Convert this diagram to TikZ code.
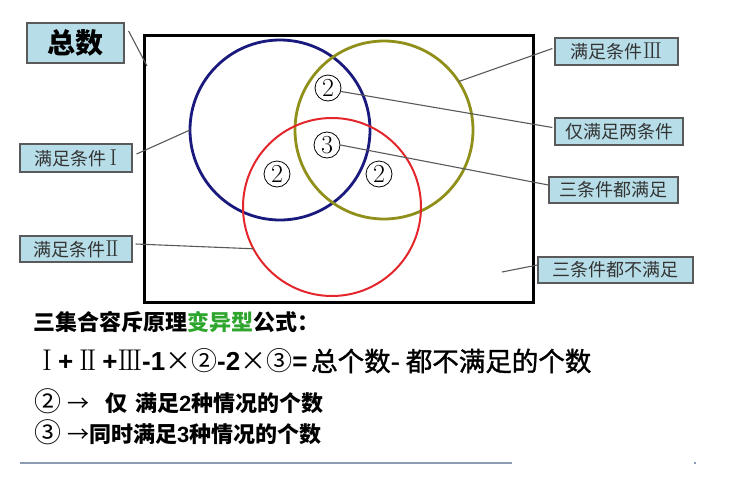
\documentclass[tikz,border=0pt]{standalone}
\usepackage{fontspec}
\newfontfamily\cjk{Noto Sans CJK SC}
\newfontfamily\cjkm[FakeBold=1.3]{Noto Sans CJK SC}
\newfontfamily\arl{Liberation Sans}
\usetikzlibrary{calc}
\definecolor{boxfill}{HTML}{B7DEE8}
\definecolor{boxdraw}{HTML}{5A5A5A}
\definecolor{cblue}{HTML}{1A1A7E}
\definecolor{colive}{HTML}{8F8F1A}
\definecolor{cred}{HTML}{E3262B}
\definecolor{cgreen}{HTML}{2EA62E}
\definecolor{rulec}{HTML}{8E9CB3}
\newcommand\rmn[1]{{\normalfont\fontsize{23}{23}\selectfont #1}}
\newcommand\rmb[1]{{\normalfont\fontsize{30}{30}\selectfont #1}}
\begin{document}
\begin{tikzpicture}[x=1pt,y=-1pt,
 lbl/.style={draw=boxdraw, line width=1.2pt, fill=boxfill, inner sep=0pt, font=\cjk\fontsize{18}{18}\selectfont, text=black!80},
 conn/.style={draw=black!65, line width=1.1pt},
 cnum/.style={circle, draw=black, line width=0.8pt, inner sep=0pt, minimum size=26pt, font=\fontsize{26}{26}\selectfont},
 venn/.style={circle, draw, inner sep=0pt, outer sep=0pt, minimum size=#1},
 txt/.style={anchor=west, inner sep=0pt},
]
\useasboundingbox (0,0) rectangle (731,485);
% frame
\node[draw=black, line width=3pt, minimum width=389pt, minimum height=267pt, inner sep=0pt] (frame) at (338.5,168.5) {};
% circles
\node[venn=180pt, draw=cblue, line width=2.8pt] (cA) at (280,130) {};
\node[venn=178pt, draw=colive, line width=2.8pt] (cB) at (384,130) {};
\node[venn=178pt, draw=cred, line width=2pt] (cC) at (332,207) {};
% circled numbers
\node[cnum] (n2a) at (328,88) {2};
\node[cnum] (n3) at (327,145) {3};
\node[cnum] (n2b) at (277,174) {2};
\node[cnum] (n2c) at (379,174) {2};
% label boxes
\node[lbl, minimum width=97pt, minimum height=40pt, font=\cjk\bfseries\fontsize{28}{28}\selectfont, text=black] (tot) at (75.5,43) {总数};
\node[lbl, minimum width=123pt, minimum height=27pt] (b3) at (616.5,51.5) {满足条件\rmn{I\kern-1.8ptI\kern-1.8ptI}};
\node[lbl, minimum width=128pt, minimum height=27pt] (b2) at (619,131.5) {仅满足两条件};
\node[lbl, minimum width=129pt, minimum height=26pt] (bA) at (613.5,190) {三条件都满足};
\node[lbl, minimum width=112pt, minimum height=28pt] (b1) at (76,158) {满足条件\,\rmn{I}};
\node[lbl, minimum width=112pt, minimum height=26pt] (bII) at (76,249) {满足条件\rmn{I\kern-1.8ptI}};
\node[lbl, minimum width=155pt, minimum height=26pt] (bN) at (615.5,270) {三条件都不满足};
% connectors
\coordinate (tEnd) at (147,66);
\coordinate (nEnd) at (502,272);
\draw[conn] ([xshift=4pt,yshift=12pt]tot.east) -- (tEnd);
\draw[conn] (cB.33) -- ([xshift=-2pt,yshift=3pt]b3.west);
\draw[conn] (n2a.-15) -- ([xshift=-2pt,yshift=4pt]b2.west);
\draw[conn] (n3.east) -- ([yshift=5pt]bA.west);
\draw[conn] ([xshift=4pt,yshift=4pt]b1.east) -- (cA.west);
\draw[conn] ([xshift=3pt,yshift=5pt]bII.east) -- (cC.208);
\draw[conn] (nEnd) -- ([yshift=5pt]bN.west);
% formula text
\node[txt, font=\cjk\bfseries\fontsize{22}{22}\selectfont] (title) at (33,322) {三集合容斥原理\textcolor{cgreen}{变异型}公式：};
\node[txt, font=\fontsize{26}{26}\selectfont] (f1) at (42,361) {\rmb{I}\hspace{6pt}{\arl\bfseries +}\hspace{6pt}\rmb{I\kern-2.5ptI}\hspace{6pt}{\arl\bfseries +}\rmb{I\kern-2.5ptI\kern-2.5ptI}{\arl\bfseries -1}{\cjk ×②}{\arl\bfseries -2}{\cjk ×③}{\arl\bfseries =}};
\node[txt, font=\cjkm\fontsize{26.5}{26.5}\selectfont] (f2) at (311,361) {总个数- 都不满足的个数};
\node[txt, font=\cjk\bfseries\fontsize{22}{22}\selectfont] (l3) at (34,401) {{\mdseries\fontsize{27}{27}\selectfont ②}\hspace{6pt}{\mdseries →}\hspace{16pt}仅\hspace{8pt}满足{\arl 2}种情况的个数};
\node[txt, font=\cjk\bfseries\fontsize{22}{22}\selectfont] (l4) at (34,432) {{\mdseries\fontsize{27}{27}\selectfont ③}\hspace{6pt}{\mdseries →}同时满足{\arl 3}种情况的个数};
% bottom rule
\draw[rulec, line width=1.5pt] (20,463) -- (512,463);
\fill[rulec] (694,462) rectangle (696,464);
\end{tikzpicture}
\end{document}
